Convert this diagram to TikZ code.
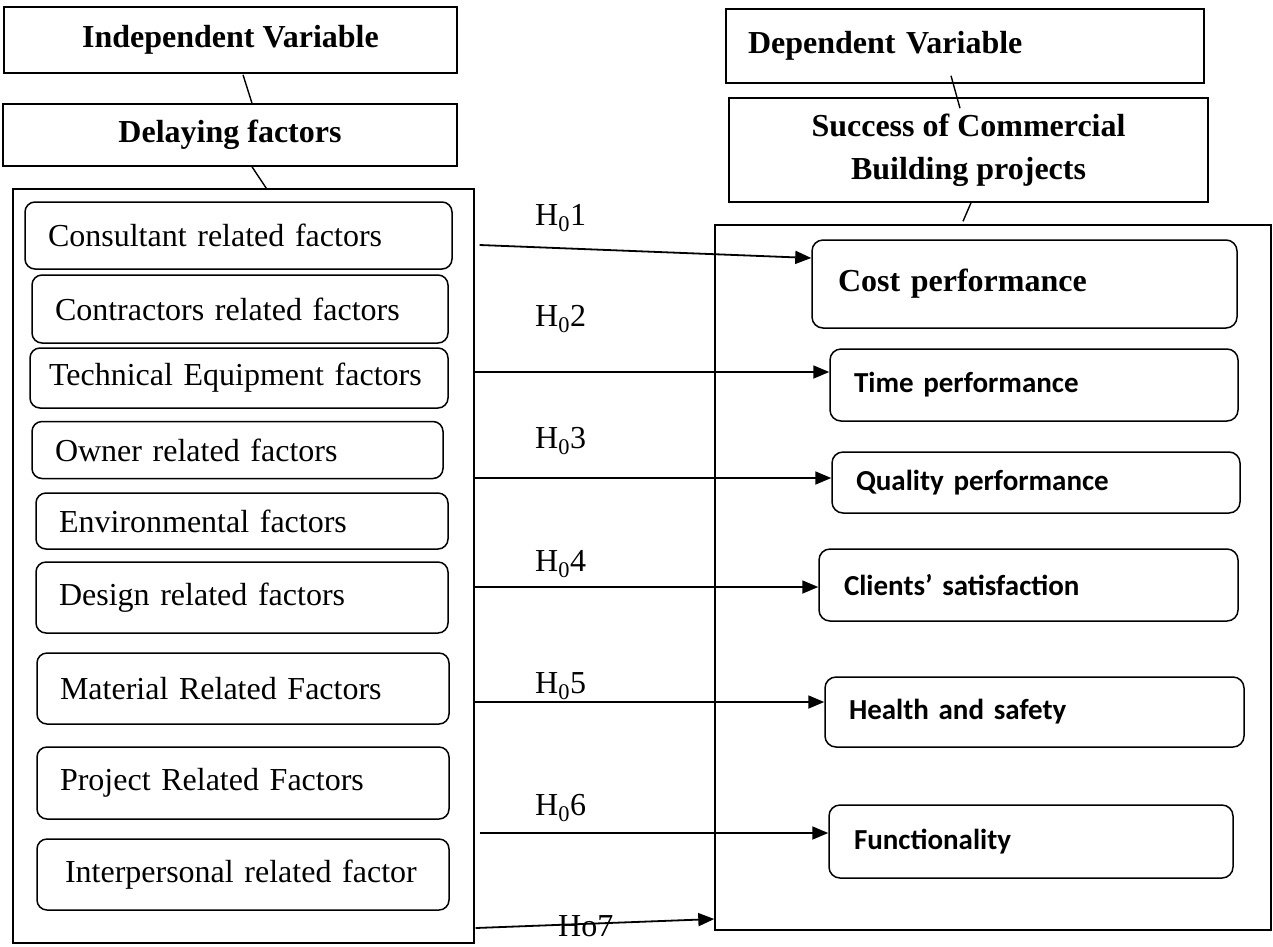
\documentclass[tikz,border=0pt]{standalone}
\usepackage{fontspec}
\setmainfont{Liberation Serif}
\newfontfamily\calibri{Carlito}
\usetikzlibrary{arrows.meta, calc}
\newcommand{\txtfont}{\fontsize{32}{43}\selectfont}
\newcommand{\calbold}{\calibri\bfseries\fontsize{29}{35}\selectfont}

\begin{document}
\begin{tikzpicture}[x=1pt, y=-1pt,
  head/.style={draw, line width=1.5pt, font=\txtfont\bfseries, inner sep=0pt},
  outer/.style={draw, line width=1.4pt, inner sep=0pt},
  fac/.style={draw, rounded corners=10pt, line width=1.5pt, align=left,
              inner xsep=23pt, inner ysep=0pt, font=\txtfont},
  res/.style={draw, rounded corners=11pt, line width=1.5pt, align=left,
              inner xsep=24pt, inner ysep=0pt, font=\calbold},
  hyp/.style={anchor=west, font=\txtfont, inner sep=0pt},
  arr/.style={-{Triangle[length=16pt, width=13pt]}, line width=1.8pt},
  link/.style={line width=1.4pt},
]
  \useasboundingbox (0,0) rectangle (1273,946);

  % left column
  \node[head, minimum width=453pt, minimum height=66pt] (indep) at (230.5,40) {Independent Variable};
  \node[head, minimum width=454pt, minimum height=62pt] (delay) at (230,135) {Delaying factors};
  \node[outer, minimum width=461pt, minimum height=754pt] (outL) at (243.5,566) {};

  \node[fac, text width=381pt, minimum height=67pt] (f1) at (238.5,235.5) {Consultant related factors};
  \node[fac, text width=370pt, minimum height=68pt] (f2) at (240,309) {Contractors related factors};
  \node[fac, text width=380pt, minimum height=60pt, inner xsep=19pt] (f3) at (239,378) {Technical Equipment factors};
  \node[fac, text width=365pt, minimum height=57pt] (f4) at (237.5,450) {Owner related factors};
  \node[fac, text width=366pt, minimum height=56pt] (f5) at (242,521) {Environmental factors};
  \node[fac, text width=366pt, minimum height=71pt] (f6) at (242,597.5) {Design related factors};
  \node[fac, text width=366pt, minimum height=71pt] (f7) at (243,688.5) {Material Related Factors};
  \node[fac, text width=366pt, minimum height=72pt] (f8) at (243,783) {Project Related Factors};
  \node[fac, text width=356pt, minimum height=71pt, inner xsep=28pt] (f9) at (243,874.5) {Interpersonal related factor};

  % right column
  \node[head, align=left, text width=434pt, inner xsep=22pt, minimum height=74pt] (dep) at (965,46) {Dependent Variable};
  \node[head, align=center, minimum width=479pt, minimum height=104pt] (succ) at (968.5,150)
    {Success of Commercial\\Building projects};
  \node[outer, minimum width=556pt, minimum height=705pt] (outR) at (993,577.5) {};

  \node[res, font=\txtfont\bfseries, inner xsep=26pt, text width=373pt, minimum height=88pt] (cost) at (1024.5,284) {Cost performance};
  \node[res, text width=360pt, minimum height=72pt] (time) at (1034,385) {Time performance};
  \node[res, text width=360pt, minimum height=61pt] (qual) at (1036,482.5) {Quality performance};
  \node[res, inner xsep=25pt, text width=369pt, minimum height=72pt] (client) at (1028.5,585) {Clients’ satisfaction};
  \node[res, text width=371pt, minimum height=70pt] (health) at (1034.5,712) {Health and safety};
  \node[res, inner xsep=25pt, text width=354pt, minimum height=73pt] (func) at (1031,841.5) {Functionality};

  % header links
  \draw[link] ($(indep.south)+(12.5,1)$) -- ($(delay.north)+(22,0)$);
  \draw[link] ($(delay.south)+(22,0)$) -- ($(outL.north)+(23.5,1)$);
  \draw[link] ($(dep.south)+(-14,-8)$) -- ($(succ.north)+(-8.5,11)$);
  \draw[link] ($(succ.south)+(2.5,0)$) -- ($(outR.north)+(-30,-3)$);

  % hypotheses
  \draw[arr] ($(outL.east |- 0,245)+(5,0)$) -- (cost.west |- 0,258);
  \draw[arr] (outL.east |- 0,372) -- (time.west |- 0,372);
  \draw[arr] (outL.east |- 0,478) -- (qual.west |- 0,478);
  \draw[arr] (outL.east |- 0,587) -- (client.west |- 0,587);
  \draw[arr] (outL.east |- 0,702) -- (health.west |- 0,702);
  \draw[arr] ($(outL.east |- 0,833)+(5,0)$) -- (func.west |- 0,833);
  \draw[arr] ($(outL.east |- 0,928)+(1,0)$) -- (outR.west |- 0,919);

  \node[hyp] (h1) at (535,218) {H\textsubscript{0}1};
  \node[hyp] (h2) at (535,319) {H\textsubscript{0}2};
  \node[hyp] (h3) at (535,441) {H\textsubscript{0}3};
  \node[hyp] (h4) at (535,564) {H\textsubscript{0}4};
  \node[hyp] (h5) at (535,686) {H\textsubscript{0}5};
  \node[hyp] (h6) at (535,808) {H\textsubscript{0}6};
  \node[hyp] (h7) at (558,926) {Ho7};
\end{tikzpicture}
\end{document}
